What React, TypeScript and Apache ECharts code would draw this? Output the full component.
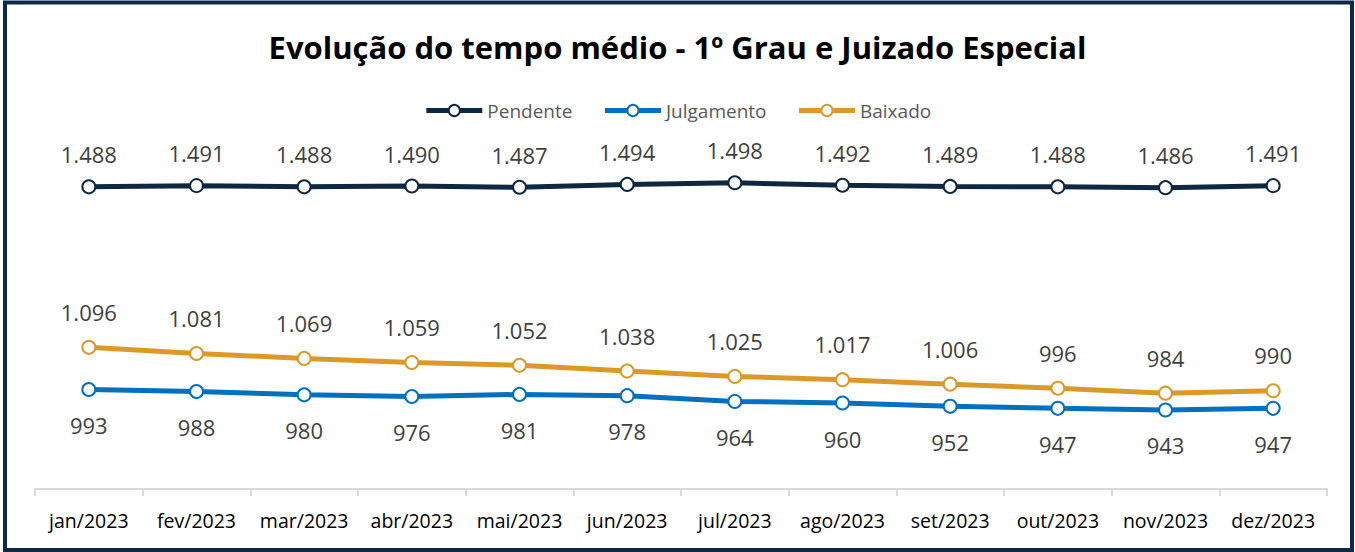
import React, { useEffect, useRef } from "react";
import * as echarts from "echarts";

const categories = ["jan/2023", "fev/2023", "mar/2023", "abr/2023", "mai/2023", "jun/2023", "jul/2023", "ago/2023", "set/2023", "out/2023", "nov/2023", "dez/2023"];
const pendente = [1488, 1491, 1488, 1490, 1487, 1494, 1498, 1492, 1489, 1488, 1486, 1491];
const julgamento = [993, 988, 980, 976, 981, 978, 964, 960, 952, 947, 943, 947];
const baixado = [1096, 1081, 1069, 1059, 1052, 1038, 1025, 1017, 1006, 996, 984, 990];

const fmt = (v: number) => {
  const s = String(Math.round(v));
  return s.replace(/\B(?=(\d{3})+(?!\d))/g, ".");
};

const FONT = "'Open Sans', 'Noto Sans', sans-serif";

export default function App() {
  const ref = useRef<HTMLDivElement>(null);
  useEffect(() => {
    document.body.style.margin = "0";
    const chart = echarts.init(ref.current!, null, { renderer: "svg" });
    const mk = (name: string, data: number[], color: string, pos: string, dist: number) => ({
      name,
      type: "line",
      data,
      symbol: "circle",
      symbolSize: 13,
      lineStyle: { width: 5, color },
      itemStyle: { color: "#ffffff", borderColor: color, borderWidth: 2 },
      label: {
        show: true,
        position: pos,
        distance: dist,
        formatter: (p: any) => fmt(p.value),
        fontFamily: FONT,
        fontSize: 22,
        color: "#404040",
      },
    });
    chart.setOption({
      animation: false,
      backgroundColor: "#ffffff",
      title: {
        text: "Evolução do tempo médio - 1º Grau e Juizado Especial",
        left: "center",
        top: 26,
        textStyle: { fontFamily: FONT, fontSize: 31, fontWeight: "bold", color: "#000000" },
      },
      legend: {
        top: 96,
        left: "center",
        itemWidth: 56,
        itemHeight: 14,
        itemGap: 30,
        lineStyle: { width: 5 },
        textStyle: { fontFamily: FONT, fontSize: 19, color: "#595959" },
        data: ["Pendente", "Julgamento", "Baixado"],
      },
      grid: { left: 35, right: 28, top: 141, bottom: 63 },
      xAxis: {
        type: "category",
        data: categories,
        boundaryGap: true,
        axisLine: { lineStyle: { color: "#D9D9D9", width: 2 } },
        axisTick: { show: true, length: 7, lineStyle: { color: "#D9D9D9", width: 2 } },
        axisLabel: { interval: 0, fontFamily: FONT, fontSize: 19.5, color: "#000000", margin: 21 },
      },
      yAxis: {
        type: "value",
        min: 750,
        max: 1600,
        show: false,
        splitLine: { show: false },
      },
      graphic: [
        {
          type: "rect",
          shape: { x: 5, y: 2.5, width: 1347, height: 547.5 },
          style: { fill: "none", stroke: "#0B2A4A", lineWidth: 4 },
          silent: true,
        },
      ],
      series: [
        mk("Pendente", pendente, "#0E2841", "top", 14),
        mk("Julgamento", julgamento, "#0070C0", "bottom", 17),
        mk("Baixado", baixado, "#DB9A28", "top", 17),
      ],
    });
    return () => chart.dispose();
  }, []);
  return <div ref={ref} style={{ position: "absolute", left: 0, top: 0, width: 1355, height: 552 }} />;
}
